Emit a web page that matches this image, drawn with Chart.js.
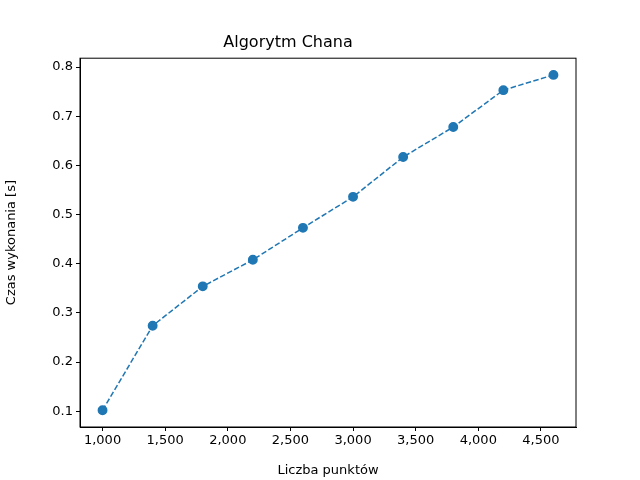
<!DOCTYPE html>
<html>
<head>
<meta charset="utf-8">
<script src="https://cdn.jsdelivr.net/npm/chart.js@4"></script>
<style>
  body { margin: 0; background: #fff; }
  #wrap { width: 640px; height: 480px; }
</style>
</head>
<body>
<div id="wrap"><canvas id="chart" width="640" height="480"></canvas></div>
<script>
// Data
const points = [1000, 1400, 1800, 2200, 2600, 3000, 3400, 3800, 4200, 4600];
const times = [0.102, 0.274, 0.354, 0.408, 0.473, 0.536, 0.617, 0.678, 0.753, 0.784];
const xTicks = [1000, 1500, 2000, 2500, 3000, 3500, 4000, 4500];
const yTicks = [0.1, 0.2, 0.3, 0.4, 0.5, 0.6, 0.7, 0.8];

const font = { family: 'DejaVu Sans', size: 13 };

// draw the full box around the plot area like matplotlib
const boxPlugin = {
  id: 'box',
  afterDraw(chart) {
    const a = chart.chartArea, c = chart.ctx;
    c.save();
    c.strokeStyle = '#000';
    c.lineWidth = 1;
    c.strokeRect(a.left, a.top, a.right - a.left, a.bottom - a.top);
    c.restore();
  }
};

new Chart(document.getElementById('chart'), {
  type: 'scatter',
  data: {
    datasets: [{
      data: points.map((x, i) => ({ x: x, y: times[i] })),
      showLine: true,
      borderColor: '#1f77b4',
      backgroundColor: '#1f77b4',
      borderWidth: 1.5,
      borderDash: [5.5, 2.4],
      pointRadius: 4.2,
      pointHoverRadius: 4.2
    }]
  },
  options: {
    responsive: false,
    animation: false,
    layout: { padding: { left: 0, right: 64, top: 0, bottom: 0 } },
    plugins: {
      legend: { display: false },
      tooltip: { enabled: false },
      title: {
        display: true,
        text: 'Algorytm Chana',
        color: '#000',
        font: { family: 'DejaVu Sans', size: 16, weight: 'normal' },
        padding: { top: 33, bottom: 6 }
      }
    },
    scales: {
      x: {
        type: 'linear',
        min: 820, max: 4780,
        afterBuildTicks: s => { s.ticks = xTicks.map(v => ({ value: v })); },
        afterFit: s => { s.height = 53; },
        grid: { drawOnChartArea: false, color: '#000', tickLength: 4 },
        border: { color: '#000' },
        ticks: { color: '#000', font: font, maxRotation: 0, padding: 2 },
        title: { display: true, text: 'Liczba punktów', color: '#000', font: font, padding: 2 }
      },
      y: {
        min: 0.068, max: 0.818,
        afterBuildTicks: s => { s.ticks = yTicks.map(v => ({ value: v })); },
        afterFit: s => { s.width = 80; },
        grid: { drawOnChartArea: false, color: '#000', tickLength: 4 },
        border: { color: '#000' },
        ticks: { color: '#000', font: font, padding: 3, callback: v => v.toFixed(1) },
        title: { display: true, text: 'Czas wykonania [s]', color: '#000', font: font, padding: 4 }
      }
    }
  },
  plugins: [boxPlugin]
});
</script>
</body>
</html>
